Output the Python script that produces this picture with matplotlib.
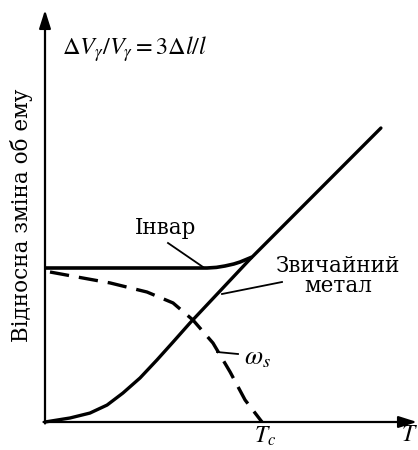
import matplotlib
matplotlib.use("Agg")
import matplotlib.pyplot as plt

plt.rcParams['mathtext.fontset'] = 'stix'
plt.rcParams['font.family'] = ['DejaVu Serif']

# Data (T in units of Tc, volume change in units of the Invar level)
metal_T = [0.0, 0.115, 0.207, 0.286, 0.359, 0.438, 0.516, 0.590, 0.668, 0.945, 1.548]
metal_V = [0.0, 0.026, 0.058, 0.110, 0.188, 0.286, 0.403, 0.519, 0.643, 1.058, 1.909]

invar_T = [0.0, 0.747, 0.790, 0.829, 0.870, 0.899, 0.930, 0.954]
invar_V = [1.0, 1.0, 1.004, 1.013, 1.026, 1.039, 1.057, 1.071]

omega_T = [0.023, 0.147, 0.300, 0.470, 0.590, 0.682, 0.774, 0.853, 0.922, 1.0]
omega_V = [0.974, 0.942, 0.903, 0.844, 0.773, 0.662, 0.513, 0.325, 0.143, 0.0]

ylabel = "Відносна зміна об ему"
formula = r'$\Delta V_{\gamma}/V_{\gamma} = 3\Delta l/l$'
label_invar = "Інвар"
label_metal = "Звичайний\nметал"
label_omega = r'$\omega_s$'
label_Tc = r'$T_c$'
label_T = r'$T$'

W, H = 418, 450
fig = plt.figure(figsize=(W / 100, H / 100), dpi=100)
ax = fig.add_axes([0, 0, 1, 1])
# pixel mapping: x0=45px, Tc at 262px; y0=422px, invar level at 268px
sx, sy = 217.0, 154.0
ax.set_xlim(-45 / sx, (W - 45) / sx)
ax.set_ylim(-(H - 422) / sy, 422 / sy)
ax.axis('off')


def px(x):
    return (x - 45) / sx


def py(y):
    return (422 - y) / sy


# axes with arrows
ax.annotate('', xy=(0, py(10)), xytext=(0, py(423.5)),
            arrowprops=dict(arrowstyle='-|>,head_length=1.1,head_width=0.35',
                            lw=1.6, color='black', shrinkA=0, shrinkB=0))
ax.annotate('', xy=(px(417), 0), xytext=(px(43.5), 0),
            arrowprops=dict(arrowstyle='-|>,head_length=1.1,head_width=0.35',
                            lw=1.6, color='black', shrinkA=0, shrinkB=0))

ax.plot(metal_T, metal_V, color='black', lw=2.4, solid_capstyle='round', solid_joinstyle='round')
ax.plot(invar_T, invar_V, color='black', lw=2.6, solid_capstyle='butt', solid_joinstyle='round')
ax.plot(omega_T, omega_V, color='black', lw=2.4, dashes=(5.8, 3.0), dash_capstyle='butt')

# leader lines
ax.plot([px(168), px(203)], [py(243), py(267)], color='black', lw=1.3)
ax.plot([px(222), px(282)], [py(294), py(282)], color='black', lw=1.3)
ax.plot([px(217), px(238)], [py(352), py(354)], color='black', lw=1.3)

ax.text(px(22), py(215), ylabel, rotation=90, ha='center', va='center', fontsize=15.5)
ax.text(px(62), py(49), formula, ha='left', va='center', fontsize=17.5)
ax.text(px(166), py(228), label_invar, ha='center', va='center', fontsize=15.5)
ax.text(px(338), py(276), label_metal, ha='center', va='center', fontsize=15.5,
        linespacing=0.85)
ax.text(px(244), py(358), label_omega, ha='left', va='center', fontsize=19)
ax.text(px(254), py(448), label_Tc, ha='left', va='bottom', fontsize=17)
ax.text(px(401), py(446), label_T, ha='left', va='bottom', fontsize=17)

fig.savefig('out.png', dpi=100)
